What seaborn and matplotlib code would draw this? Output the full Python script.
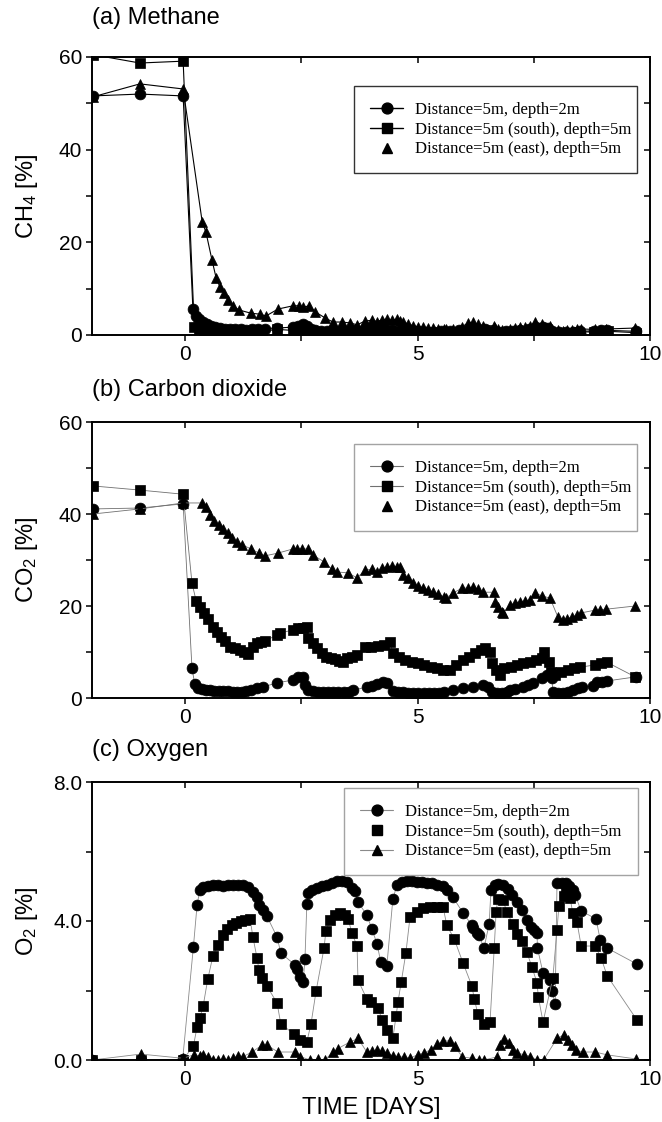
import matplotlib
matplotlib.use("Agg")
import matplotlib.pyplot as plt
from matplotlib.lines import Line2D
from matplotlib.ticker import MultipleLocator, FormatStrFormatter
import seaborn as sns

# ---------------------------------------------------------------------------
# Measured gas concentrations, time in days relative to the start of aeration
# ---------------------------------------------------------------------------

# (a) Methane [%]
ch4_d2_t = [-1.98, -0.97, -0.04, 0.17, 0.24, 0.30, 0.39, 0.47, 0.56, 0.65, 0.75, 0.86,
            0.97, 1.08, 1.20, 1.32, 1.45, 1.58, 1.72, 1.98, 2.32, 2.43, 2.54, 2.62,
            2.70, 2.80, 2.92, 3.05, 3.20, 3.35, 3.50, 3.65, 3.85, 4.00, 4.15, 4.30,
            4.45, 4.60, 4.75, 4.90, 5.05, 5.20, 5.35, 5.50, 5.70, 5.90, 6.10, 6.30,
            6.45, 6.60, 6.75, 6.90, 7.05, 7.20, 7.40, 7.55, 7.70, 7.80, 7.90, 8.05,
            8.20, 8.35, 8.50, 8.80, 8.95, 9.08, 9.70]
ch4_d2_v = [51.6, 52.0, 51.6, 5.6, 4.1, 3.5, 2.8, 2.3, 1.9, 1.7, 1.5, 1.4,
            1.3, 1.2, 1.2, 1.1, 1.2, 1.3, 1.4, 1.5, 1.7, 2.0, 2.3, 1.9,
            1.3, 1.0, 0.9, 0.8, 0.8, 0.8, 0.9, 1.0, 1.1, 1.2, 1.3, 1.4,
            1.1, 0.9, 0.8, 0.8, 0.7, 0.7, 0.7, 0.8, 0.9, 1.0, 1.1, 1.2,
            1.2, 0.8, 0.7, 0.8, 0.9, 1.0, 1.2, 1.5, 1.8, 1.6, 0.8, 0.6,
            0.6, 0.7, 0.8, 0.9, 1.0, 1.0, 0.8]

ch4_south_t = [-1.98, -0.97, -0.04, 0.20, 0.30, 0.40, 0.50, 0.62, 0.75, 0.90, 1.05, 1.20,
               1.35, 1.50, 1.65, 1.98, 2.32, 2.50, 2.62, 2.75, 2.90, 3.05, 3.20, 3.40,
               3.60, 3.80, 4.00, 4.20, 4.40, 4.50, 4.70, 4.90, 5.10, 5.30, 5.50, 5.70,
               5.90, 6.10, 6.30, 6.50, 6.65, 6.80, 7.00, 7.20, 7.40, 7.60, 7.70, 7.85,
               8.00, 8.20, 8.40, 8.80, 9.00, 9.10, 9.70]
ch4_south_v = [60.5, 58.7, 59.1, 1.7, 1.2, 0.9, 0.8, 0.7, 0.6, 0.6, 0.5, 0.5,
               0.6, 0.7, 0.8, 1.2, 1.0, 1.1, 0.9, 0.6, 0.5, 0.4, 0.4, 0.4,
               0.5, 0.6, 0.7, 0.8, 0.8, 0.5, 0.4, 0.3, 0.3, 0.3, 0.4, 0.5,
               0.6, 0.7, 0.8, 0.7, 0.4, 0.4, 0.5, 0.6, 0.7, 0.9, 1.1, 0.7,
               0.4, 0.5, 0.6, 0.7, 0.8, 0.8, 0.5]

ch4_east_t = [-1.98, -0.97, -0.04, 0.37, 0.45, 0.58, 0.67, 0.75, 0.84, 0.93, 1.03, 1.16,
              1.42, 1.61, 1.74, 2.00, 2.32, 2.45, 2.54, 2.67, 2.80, 3.01, 3.18, 3.38,
              3.55, 3.70, 3.87, 4.02, 4.13, 4.24, 4.34, 4.45, 4.56, 4.62, 4.69, 4.80,
              4.90, 5.01, 5.12, 5.23, 5.33, 5.44, 5.57, 5.61, 5.76, 5.96, 6.09, 6.20,
              6.30, 6.41, 6.65, 6.67, 6.73, 6.82, 6.99, 7.10, 7.20, 7.31, 7.42, 7.53,
              7.68, 7.85, 8.02, 8.13, 8.22, 8.32, 8.43, 8.52, 8.82, 8.92, 9.05, 9.68]
ch4_east_v = [51.4, 54.2, 53.1, 24.4, 22.2, 16.2, 12.3, 10.4, 9.1, 7.6, 6.3, 5.4,
              4.7, 4.5, 4.1, 5.6, 6.3, 6.3, 6.0, 6.3, 5.0, 3.7, 2.8, 2.8,
              2.6, 2.2, 3.0, 3.2, 2.9, 3.3, 3.4, 3.2, 3.4, 3.0, 2.8, 2.4,
              2.0, 1.8, 1.7, 1.6, 1.5, 1.4, 1.3, 1.2, 1.4, 1.8, 2.6, 2.7,
              2.3, 2.0, 2.0, 1.6, 1.3, 1.0, 1.3, 1.5, 1.7, 1.8, 1.9, 2.9,
              2.3, 2.0, 1.0, 0.9, 1.0, 1.1, 1.2, 1.3, 1.2, 1.1, 1.3, 1.5]

# (b) Carbon dioxide [%]
co2_d2_t = [-1.98, -0.97, -0.04, 0.15, 0.21, 0.28, 0.37, 0.45, 0.54, 0.63, 0.73, 0.82,
            0.93, 1.03, 1.12, 1.23, 1.32, 1.42, 1.55, 1.68, 1.98, 2.32, 2.43, 2.54,
            2.58, 2.65, 2.75, 2.86, 2.97, 3.08, 3.19, 3.30, 3.41, 3.52, 3.62, 3.91,
            4.02, 4.13, 4.26, 4.34, 4.47, 4.58, 4.69, 4.80, 4.91, 5.02, 5.13, 5.24,
            5.35, 5.46, 5.57, 5.76, 5.98, 6.20, 6.41, 6.52, 6.60, 6.71, 6.82, 6.93,
            6.99, 7.10, 7.27, 7.38, 7.49, 7.68, 7.78, 7.89, 7.91, 8.02, 8.13, 8.24,
            8.34, 8.45, 8.54, 8.77, 8.86, 8.97, 9.07, 9.70]
co2_d2_v = [41.1, 41.3, 42.2, 6.5, 3.0, 2.2, 1.9, 1.8, 1.7, 1.6, 1.6, 1.5,
            1.5, 1.4, 1.4, 1.4, 1.5, 1.7, 2.2, 2.4, 3.3, 3.9, 4.6, 4.6,
            2.8, 1.7, 1.5, 1.4, 1.3, 1.3, 1.2, 1.2, 1.3, 1.4, 1.7, 2.4,
            2.6, 3.0, 3.5, 3.3, 1.5, 1.3, 1.2, 1.1, 1.0, 1.0, 1.0, 1.0,
            1.1, 1.1, 1.3, 1.7, 2.2, 2.4, 2.8, 2.4, 1.3, 1.0, 1.0, 1.2,
            1.7, 1.9, 2.4, 2.8, 3.3, 4.3, 5.0, 4.3, 1.3, 1.1, 1.1, 1.3,
            1.7, 2.2, 2.4, 2.6, 3.5, 3.5, 3.7, 4.6]

co2_south_t = [-1.98, -0.97, -0.04, 0.15, 0.24, 0.32, 0.41, 0.50, 0.60, 0.69, 0.77, 0.86,
               0.97, 1.08, 1.18, 1.27, 1.35, 1.46, 1.55, 1.63, 1.72, 1.98, 2.04, 2.32,
               2.43, 2.54, 2.62, 2.65, 2.75, 2.84, 2.95, 3.03, 3.14, 3.23, 3.31, 3.40,
               3.48, 3.59, 3.70, 3.87, 4.00, 4.15, 4.28, 4.41, 4.47, 4.60, 4.73, 4.88,
               5.01, 5.14, 5.29, 5.42, 5.55, 5.70, 5.83, 5.98, 6.11, 6.24, 6.37, 6.45,
               6.56, 6.60, 6.69, 6.77, 6.86, 7.01, 7.14, 7.27, 7.42, 7.55, 7.68, 7.72,
               7.83, 7.87, 7.96, 8.09, 8.24, 8.37, 8.50, 8.82, 8.95, 9.07, 9.68]
co2_south_v = [46.1, 45.2, 44.3, 25.0, 21.1, 19.8, 18.5, 17.2, 15.4, 14.3, 13.3, 12.4,
               11.1, 10.9, 10.4, 10.0, 9.6, 11.1, 12.0, 12.2, 12.4, 13.7, 14.1, 14.8,
               15.2, 15.2, 15.4, 13.0, 12.0, 10.9, 9.8, 8.9, 8.7, 8.5, 8.0, 7.8,
               8.7, 8.9, 9.3, 11.1, 11.1, 11.3, 11.5, 12.2, 9.8, 8.9, 8.3, 7.8,
               7.6, 7.2, 6.7, 6.5, 6.1, 6.1, 7.2, 8.3, 8.9, 9.8, 10.4, 10.9,
               10.0, 7.6, 6.1, 5.0, 6.5, 6.7, 7.2, 7.6, 7.8, 8.3, 8.7, 10.0,
               7.8, 5.7, 5.0, 5.7, 6.1, 6.5, 6.7, 7.2, 7.6, 7.8, 4.6]

co2_east_t = [-1.98, -0.97, -0.04, 0.37, 0.45, 0.54, 0.63, 0.73, 0.82, 0.93, 1.01, 1.12,
              1.23, 1.42, 1.59, 1.72, 2.00, 2.32, 2.41, 2.52, 2.65, 2.75, 2.99, 3.16,
              3.27, 3.51, 3.70, 3.87, 4.02, 4.13, 4.24, 4.34, 4.45, 4.56, 4.62, 4.69,
              4.80, 4.90, 5.01, 5.12, 5.23, 5.33, 5.44, 5.57, 5.61, 5.76, 5.96, 6.09,
              6.20, 6.30, 6.41, 6.65, 6.67, 6.73, 6.82, 6.84, 6.99, 7.10, 7.20, 7.31,
              7.42, 7.53, 7.68, 7.85, 8.02, 8.13, 8.22, 8.32, 8.43, 8.52, 8.82, 8.92,
              9.05, 9.68]
co2_east_v = [40.0, 41.1, 42.4, 42.4, 41.5, 39.8, 38.5, 37.6, 36.7, 35.9, 34.8, 33.9,
              33.3, 32.4, 31.5, 30.9, 31.5, 32.4, 32.4, 32.4, 32.4, 31.1, 29.6, 28.0,
              27.4, 27.2, 26.1, 27.8, 28.0, 27.4, 28.3, 28.5, 28.7, 28.5, 28.5, 26.7,
              26.1, 25.0, 24.3, 23.9, 23.5, 23.0, 22.6, 22.0, 21.7, 22.8, 23.9, 23.9,
              24.1, 23.7, 23.0, 23.0, 20.9, 19.8, 18.7, 18.5, 20.2, 20.6, 20.9, 21.1,
              21.3, 22.8, 22.2, 21.7, 17.6, 17.0, 17.2, 17.6, 18.0, 18.5, 19.1, 19.1,
              19.3, 20.0]

# (c) Oxygen [%]
o2_d2_t = [-2.00, -0.95, -0.05, 0.18, 0.26, 0.32, 0.39, 0.49, 0.60, 0.71, 0.82, 0.92,
           1.03, 1.14, 1.25, 1.35, 1.46, 1.55, 1.59, 1.68, 1.76, 1.98, 2.06, 2.37,
           2.41, 2.47, 2.54, 2.58, 2.62, 2.65, 2.73, 2.84, 2.95, 3.05, 3.16, 3.27,
           3.38, 3.48, 3.59, 3.66, 3.72, 3.91, 4.02, 4.13, 4.21, 4.34, 4.47, 4.56,
           4.66, 4.77, 4.88, 4.99, 5.10, 5.21, 5.32, 5.43, 5.55, 5.63, 5.76, 5.98,
           6.17, 6.19, 6.28, 6.32, 6.43, 6.54, 6.58, 6.67, 6.73, 6.84, 6.95, 7.03,
           7.14, 7.25, 7.35, 7.44, 7.51, 7.57, 7.58, 7.70, 7.85, 7.89, 7.96, 8.00,
           8.10, 8.20, 8.26, 8.34, 8.39, 8.52, 8.84, 8.93, 9.08, 9.72]
o2_d2_v = [0.00, 0.00, 0.02, 3.25, 4.46, 4.90, 4.98, 5.02, 5.03, 5.03, 5.02, 5.03,
           5.03, 5.04, 5.03, 4.98, 4.84, 4.69, 4.46, 4.32, 4.14, 3.54, 3.08, 2.73,
           2.62, 2.39, 2.24, 2.90, 4.49, 4.80, 4.89, 4.95, 5.00, 5.05, 5.10, 5.15,
           5.15, 5.12, 4.95, 4.85, 4.55, 4.17, 3.77, 3.34, 2.82, 2.70, 4.63, 5.04,
           5.12, 5.15, 5.15, 5.13, 5.13, 5.10, 5.08, 5.05, 5.02, 4.90, 4.69, 4.23,
           3.88, 3.80, 3.65, 3.60, 3.22, 3.91, 4.89, 5.04, 5.06, 5.04, 4.92, 4.75,
           4.55, 4.32, 4.03, 3.83, 3.74, 3.65, 3.22, 2.50, 2.30, 2.00, 1.61, 5.09,
           5.10, 5.10, 5.00, 4.89, 4.75, 4.29, 4.06, 3.45, 3.22, 2.76]

o2_south_t = [-2.00, -0.95, -0.05, 0.18, 0.26, 0.32, 0.39, 0.49, 0.60, 0.71, 0.82, 0.91,
              1.01, 1.10, 1.20, 1.29, 1.40, 1.46, 1.55, 1.59, 1.66, 1.76, 1.98, 2.06,
              2.34, 2.47, 2.62, 2.71, 2.82, 2.99, 3.03, 3.12, 3.23, 3.33, 3.44, 3.51,
              3.59, 3.70, 3.72, 3.91, 4.00, 4.15, 4.24, 4.34, 4.47, 4.54, 4.58, 4.65,
              4.75, 4.84, 4.99, 5.12, 5.27, 5.42, 5.55, 5.63, 5.79, 5.98, 6.17, 6.22,
              6.30, 6.43, 6.56, 6.65, 6.69, 6.73, 6.84, 6.92, 7.05, 7.14, 7.25, 7.35,
              7.46, 7.57, 7.60, 7.70, 7.91, 8.00, 8.04, 8.15, 8.20, 8.28, 8.34, 8.43,
              8.52, 8.82, 8.95, 9.08, 9.72]
o2_south_v = [0.00, 0.00, 0.00, 0.40, 0.95, 1.21, 1.55, 2.33, 2.99, 3.31, 3.60, 3.77,
              3.88, 3.94, 4.00, 4.03, 4.06, 3.54, 2.93, 2.59, 2.36, 2.13, 1.64, 1.04,
              0.75, 0.58, 0.52, 1.04, 1.99, 3.22, 3.71, 4.03, 4.17, 4.23, 4.17, 4.06,
              3.65, 3.28, 2.30, 1.76, 1.67, 1.50, 1.15, 0.86, 0.63, 1.27, 1.67, 2.24,
              3.08, 4.12, 4.26, 4.37, 4.40, 4.40, 4.40, 3.88, 3.48, 2.79, 2.13, 1.76,
              1.32, 1.04, 1.09, 3.22, 4.26, 4.63, 4.60, 4.26, 3.91, 3.63, 3.42, 3.11,
              2.68, 2.22, 1.81, 1.09, 2.36, 3.74, 4.43, 4.72, 4.95, 4.66, 4.23, 3.97,
              3.28, 3.28, 2.93, 2.42, 1.15]

o2_east_t = [-2.00, -0.95, -0.05, 0.20, 0.32, 0.39, 0.49, 0.60, 0.71, 0.82, 0.92, 1.03,
             1.14, 1.25, 1.44, 1.66, 1.76, 2.00, 2.37, 2.47, 2.69, 2.85, 3.01, 3.18,
             3.29, 3.55, 3.72, 3.91, 4.02, 4.13, 4.24, 4.34, 4.47, 4.58, 4.71, 4.84,
             5.00, 5.14, 5.29, 5.42, 5.55, 5.70, 5.80, 5.96, 6.17, 6.33, 6.43, 6.71,
             6.78, 6.87, 6.96, 7.05, 7.14, 7.30, 7.43, 7.57, 7.71, 8.00, 8.14, 8.23,
             8.32, 8.41, 8.55, 8.82, 9.07, 9.70]
o2_east_v = [0.00, 0.17, 0.05, 0.15, 0.12, 0.15, 0.10, 0.00, 0.00, 0.02, 0.00, 0.05,
             0.12, 0.10, 0.23, 0.43, 0.43, 0.23, 0.23, 0.10, 0.00, 0.02, 0.00, 0.23,
             0.33, 0.52, 0.62, 0.23, 0.25, 0.28, 0.25, 0.20, 0.12, 0.10, 0.08, 0.05,
             0.15, 0.20, 0.30, 0.45, 0.55, 0.55, 0.40, 0.09, 0.05, 0.00, 0.00, 0.09,
             0.43, 0.60, 0.50, 0.28, 0.20, 0.15, 0.10, 0.00, 0.00, 0.62, 0.72, 0.58,
             0.43, 0.28, 0.23, 0.23, 0.15, 0.03]

series_labels = ["Distance=5m, depth=2m",
                 "Distance=5m (south), depth=5m",
                 "Distance=5m (east), depth=5m"]

# ---------------------------------------------------------------------------
# Styling
# ---------------------------------------------------------------------------
sns.set_theme(style="ticks", rc={
    "axes.edgecolor": "black", "xtick.color": "black", "ytick.color": "black",
    "text.color": "black", "axes.labelcolor": "black",
})
plt.rcParams["font.family"] = ["Liberation Sans", "DejaVu Sans"]
plt.rcParams["mathtext.fontset"] = "custom"
plt.rcParams["mathtext.rm"] = "Liberation Sans"
plt.rcParams["mathtext.it"] = "Liberation Sans:italic"
plt.rcParams["mathtext.bf"] = "Liberation Sans:bold"

W, H = 662, 1122
fig = plt.figure(figsize=(W / 100, H / 100), dpi=100)
fig.patch.set_facecolor("white")

MARKERS = {"o": 7.8, "s": 6.8, "^": 7.8}

panels = [
    dict(title="(a) Methane", ylabel="CH$_4$ [%]", top=57, bottom=335,
         ylim=(0, 60), ymaj=20, ymin=10, yfmt="%.0f", line="black", lw=0.8,
         data=[(ch4_d2_t, ch4_d2_v, "o"), (ch4_south_t, ch4_south_v, "s"),
               (ch4_east_t, ch4_east_v, "^")],
         leg_lines=[True, True, False], leg_edge="black",
         leg_box=(354, 89, 637), title_y=18),
    dict(title="(b) Carbon dioxide", ylabel="CO$_2$ [%]", top=422, bottom=698,
         ylim=(0, 60), ymaj=20, ymin=10, yfmt="%.0f", line="#707070", lw=0.6,
         data=[(co2_d2_t, co2_d2_v, "o"), (co2_south_t, co2_south_v, "s"),
               (co2_east_t, co2_east_v, "^")],
         leg_lines=[True, True, False], leg_edge="#8c8c8c",
         leg_box=(354, 447, 637), title_y=390),
    dict(title="(c) Oxygen", ylabel="O$_2$ [%]", top=782, bottom=1060,
         ylim=(0, 8), ymaj=4, ymin=2, yfmt="%.1f", line="#8a8a8a", lw=0.6,
         data=[(o2_d2_t, o2_d2_v, "o"), (o2_south_t, o2_south_v, "s"),
               (o2_east_t, o2_east_v, "^")],
         leg_lines=[True, False, True], leg_edge="#8c8c8c",
         leg_box=(344, 791, 638), title_y=750),
]

LEFT, RIGHT = 92, 650

for p in panels:
    ax = fig.add_axes([LEFT / W, 1 - p["bottom"] / H,
                       (RIGHT - LEFT) / W, (p["bottom"] - p["top"]) / H])
    ax.set_facecolor("white")

    for t, v, mk in p["data"]:
        sns.lineplot(x=t, y=v, ax=ax, sort=False, estimator=None, legend=False,
                     color=p["line"], linewidth=p["lw"], marker=mk,
                     markersize=MARKERS[mk], markerfacecolor="black",
                     markeredgecolor="black", markeredgewidth=0.5)

    ax.set_xlim(-2, 10)
    ax.set_ylim(*p["ylim"])
    ax.xaxis.set_major_locator(MultipleLocator(5))
    ax.xaxis.set_minor_locator(MultipleLocator(2.5))
    ax.yaxis.set_major_locator(MultipleLocator(p["ymaj"]))
    ax.yaxis.set_minor_locator(MultipleLocator(p["ymin"]))
    ax.yaxis.set_major_formatter(FormatStrFormatter(p["yfmt"]))
    ax.tick_params(which="both", direction="out", length=4.5, width=1.1,
                   top=False, right=False, labelsize=15, pad=2.5)
    for s in ax.spines.values():
        s.set_linewidth(1.4)
        s.set_color("black")

    # inward ticks on the top and right frame
    sx = ax.secondary_xaxis("top")
    sx.xaxis.set_major_locator(MultipleLocator(2.5))
    sx.tick_params(direction="in", length=4.5, width=1.1, labeltop=False)
    sx.spines["top"].set_visible(False)
    sy = ax.secondary_yaxis("right")
    sy.yaxis.set_major_locator(MultipleLocator(p["ymin"]))
    sy.tick_params(direction="in", length=4.5, width=1.1, labelright=False)
    sy.spines["right"].set_visible(False)

    ax.set_xlabel("")
    ax.set_ylabel(p["ylabel"], fontsize=17)
    ax.yaxis.set_label_coords((40 - LEFT) / (RIGHT - LEFT), 0.5)

    fig.text(LEFT / W, 1 - p["title_y"] / H, p["title"], fontsize=17,
             ha="left", va="center")

    handles = [Line2D([], [], color=p["line"] if has_line else "none",
                      linewidth=p["lw"] + 0.2, marker=mk, markersize=MARKERS[mk],
                      markerfacecolor="black", markeredgecolor="black")
               for (_, _, mk), has_line in zip(p["data"], p["leg_lines"])]
    x0, y0, x1 = p["leg_box"]
    ph = p["bottom"] - p["top"]
    leg = ax.legend(handles, series_labels, loc="upper left",
                    bbox_to_anchor=((x0 - LEFT) / (RIGHT - LEFT),
                                    (p["bottom"] - y0) / ph,
                                    (x1 - x0) / (RIGHT - LEFT), 0.01),
                    mode="expand", borderaxespad=0, borderpad=0.95,
                    handlelength=2.0, handletextpad=0.7, labelspacing=0.22,
                    fancybox=False, frameon=True,
                    prop={"family": ["Liberation Serif", "DejaVu Serif"], "size": 12})
    leg.get_frame().set_edgecolor(p["leg_edge"])
    leg.get_frame().set_linewidth(1.0)

    if p is panels[-1]:
        ax.set_xlabel("TIME [DAYS]", fontsize=17)
        ax.xaxis.set_label_coords(0.5, (p["bottom"] - 1097) / ph)

fig.savefig("out.png", dpi=100, facecolor="white")
